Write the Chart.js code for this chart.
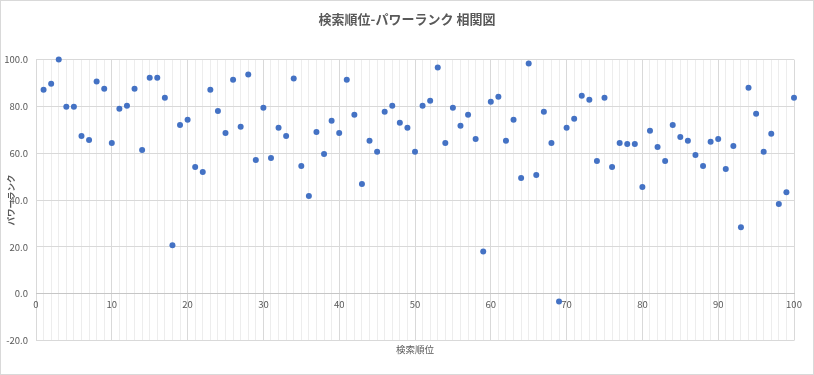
<!DOCTYPE html>
<html lang="ja">
<head>
<meta charset="utf-8">
<script src="https://cdn.jsdelivr.net/npm/chart.js@4.4.1/dist/chart.umd.min.js"></script>
<style>
    body { margin: 0; background: #fff; }
    .chart-box {
        width: 814px;
        height: 375px;
        border: 1px solid #d9d9d9;
        box-sizing: border-box;
    }
</style>
</head>
<body>
<div class="chart-box"><canvas id="rankChart" width="812" height="373"></canvas></div>
<script>
// 検索順位 (x)
const searchRanks = [
    1, 2, 3, 4, 5, 6, 7, 8, 9, 10,
    11, 12, 13, 14, 15, 16, 17, 18, 19, 20,
    21, 22, 23, 24, 25, 26, 27, 28, 29, 30,
    31, 32, 33, 34, 35, 36, 37, 38, 39, 40,
    41, 42, 43, 44, 45, 46, 47, 48, 49, 50,
    51, 52, 53, 54, 55, 56, 57, 58, 59, 60,
    61, 62, 63, 64, 65, 66, 67, 68, 69, 70,
    71, 72, 73, 74, 75, 76, 77, 78, 79, 80,
    81, 82, 83, 84, 85, 86, 87, 88, 89, 90,
    91, 92, 93, 94, 95, 96, 97, 98, 99, 100
];

// パワーランク (y)
const powerRanks = [
    87.1, 89.7, 100.0, 79.9, 79.9, 67.4, 65.7, 90.6, 87.6, 64.4,
    79.0, 80.3, 87.6, 61.4, 92.3, 92.3, 83.7, 20.7, 72.1, 74.3,
    54.1, 52.0, 87.1, 78.1, 68.7, 91.4, 71.3, 93.6, 57.1, 79.4,
    58.0, 70.9, 67.4, 91.9, 54.6, 41.7, 69.1, 59.7, 73.9, 68.7,
    91.4, 76.4, 46.9, 65.3, 60.6, 77.7, 80.3, 73.0, 70.9, 60.6,
    80.3, 82.4, 96.6, 64.4, 79.4, 71.7, 76.4, 66.1, 18.1, 82.0,
    84.1, 65.3, 74.3, 49.4, 98.3, 50.7, 77.7, 64.4, -3.3, 70.9,
    74.7, 84.6, 82.9, 56.7, 83.7, 54.1, 64.4, 64.0, 64.0, 45.6,
    69.6, 62.7, 56.7, 72.1, 67.0, 65.3, 59.3, 54.6, 64.9, 66.1,
    53.3, 63.1, 28.4, 88.0, 76.9, 60.6, 68.3, 38.3, 43.4, 83.7
];

const xRange = [0, 100];
const yRange = [-20, 100];

const textColor = '#595959';
const fontFamily = '"Noto Sans CJK JP", "Noto Sans", sans-serif';

const points = searchRanks.map((r, i) => ({ x: r, y: powerRanks[i] }));

const ctx = document.getElementById('rankChart');
new Chart(ctx, {
    type: 'scatter',
    data: {
        datasets: [{
            label: 'パワーランク',
            data: points,
            backgroundColor: '#4472C4',
            borderColor: '#4472C4',
            borderWidth: 0,
            pointRadius: 3,
            pointHoverRadius: 3,
            clip: false
        }]
    },
    options: {
        responsive: false,
        animation: false,
        layout: {
            padding: 0
        },
        scales: {
            x: {
                type: 'linear',
                position: { y: 0 },
                min: xRange[0],
                max: xRange[1],
                grid: {
                    drawTicks: false,
                    color: function(c) {
                        return c.tick && c.tick.value % 10 === 0 ? '#d9d9d9' : '#ededed';
                    }
                },
                border: { display: true, color: '#c6c6c6' },
                ticks: {
                    stepSize: 1,
                    autoSkip: false,
                    maxRotation: 0,
                    padding: 5,
                    color: textColor,
                    font: { family: fontFamily, size: 9.5 },
                    callback: function(v) {
                        return v % 10 === 0 ? v : '';
                    }
                }
            },
            y: {
                min: yRange[0],
                max: yRange[1],
                afterFit: function(scale) {
                    scale.width = 35;
                },
                grid: {
                    drawTicks: false,
                    color: '#d9d9d9'
                },
                border: { display: false },
                ticks: {
                    stepSize: 20,
                    padding: 8,
                    color: textColor,
                    font: { family: fontFamily, size: 9.5 },
                    callback: function(v) {
                        return v.toFixed(1);
                    }
                },
                title: {
                    display: true,
                    text: 'パワーランク',
                    color: textColor,
                    padding: { top: 5, bottom: 0 },
                    font: { family: fontFamily, size: 8.5, weight: 'bold' }
                }
            },
            // empty right-hand margin
            yRight: {
                position: 'right',
                min: yRange[0],
                max: yRange[1],
                afterFit: function(scale) {
                    scale.width = 19;
                },
                grid: { display: false },
                border: { display: false },
                ticks: { display: false }
            }
        },
        plugins: {
            legend: { display: false },
            tooltip: { enabled: false },
            title: {
                display: true,
                text: '検索順位-パワーランク 相関図',
                color: textColor,
                padding: { top: 10, bottom: 33 },
                font: { family: fontFamily, size: 13, weight: 'bold' }
            },
            subtitle: {
                display: true,
                position: 'bottom',
                fullSize: false,
                text: '検索順位',
                color: textColor,
                padding: { top: 3, bottom: 19 },
                font: { family: fontFamily, size: 9.5, weight: 'normal' }
            }
        }
    }
});
</script>
</body>
</html>
